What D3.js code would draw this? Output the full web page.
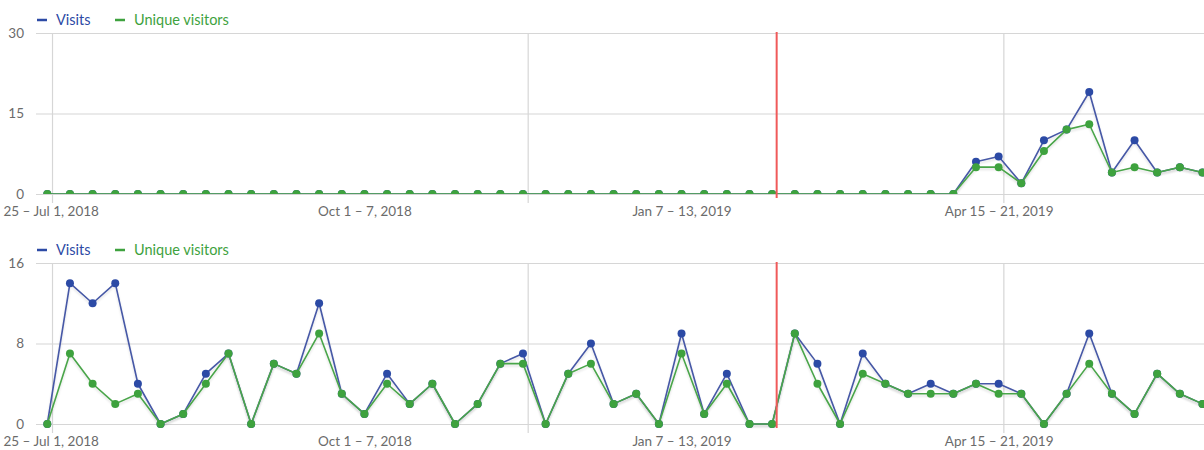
<!DOCTYPE html>
<html>
<head>
<meta charset="utf-8">
<script src="https://cdn.jsdelivr.net/npm/d3@7/dist/d3.min.js"></script>
<style>
  html, body { margin: 0; padding: 0; background: #fff; overflow: hidden; }
  svg { display: block; font-family: Lato, "Open Sans", sans-serif; }
</style>
</head>
<body>
<svg id="chart" width="1204" height="450"></svg>
<script>
// ---- data ----
const weekCount = 52; // weekly points, index 0 = week of Jun 25, 2018
const xTickIndex = [0, 14, 28, 42];
const xTickLabels = ["25 – Jul 1, 2018", "Oct 1 – 7, 2018", "Jan 7 – 13, 2019", "Apr 15 – 21, 2019"];
const xGridIndex = [0.23, 21.23, 42.23];
const markerIndex = 32.2;

const topVisits = [0,0,0,0,0,0,0,0,0,0, 0,0,0,0,0,0,0,0,0,0, 0,0,0,0,0,0,0,0,0,0,
                   0,0,0,0,0,0,0,0,0,0, 0,6,7,2,10,12,19,4,10,4, 5,4];
const topUnique = [0,0,0,0,0,0,0,0,0,0, 0,0,0,0,0,0,0,0,0,0, 0,0,0,0,0,0,0,0,0,0,
                   0,0,0,0,0,0,0,0,0,0, 0,5,5,2,8,12,13,4,5,4, 5,4];
const topYTicks = [0, 15, 30];

const botVisits = [0,14,12,14,4,0,1,5,7,0, 6,5,12,3,1,5,2,4,0,2, 6,7,0,5,8,2,3,0,9,1,
                   5,0,0,9,6,0,7,4,3,4, 3,4,4,3,0,3,9,3,1,5, 3,2];
const botUnique = [0,7,4,2,3,0,1,4,7,0, 6,5,9,3,1,4,2,4,0,2, 6,6,0,5,6,2,3,0,7,1,
                   4,0,0,9,4,0,5,4,3,3, 3,4,3,3,0,3,6,3,1,5, 3,2];
const botYTicks = [0, 8, 16];

const seriesNames = ["Visits", "Unique visitors"];
const lineColors = ["#4658a6", "#4aa54a"];
const dotColors = ["#2c4aa5", "#3ea23e"];

// ---- drawing ----
const svg = d3.select("#chart");
const defs = svg.append("defs");
const f = defs.append("filter").attr("id", "shadow").attr("x", "-5%").attr("y", "-5%").attr("width", "110%").attr("height", "120%");
f.append("feDropShadow").attr("dx", 0).attr("dy", 2).attr("stdDeviation", 1.2)
  .attr("flood-color", "#000").attr("flood-opacity", 0.12);

const x = d3.scaleLinear().domain([0, weekCount - 1]).range([47.3, 1202.5]);
const plotLeft = 36, plotRight = 1204;

function panel(cfg) {
  const g = svg.append("g");
  const y = d3.scaleLinear().domain([0, cfg.max]).range([cfg.bottom, cfg.top]);

  // legend
  const lg = g.append("g");
  seriesNames.forEach((n, i) => {
    const lx = i === 0 ? 37 : 115;
    lg.append("line").attr("x1", lx).attr("x2", lx + 10).attr("y1", cfg.legendY).attr("y2", cfg.legendY)
      .attr("stroke", dotColors[i]).attr("stroke-width", 2.5);
    lg.append("text").attr("x", lx + 19).attr("y", cfg.legendY).attr("dy", "0.35em")
      .attr("fill", dotColors[i]).attr("font-size", 14.5).text(n);
  });

  // horizontal gridlines + y labels
  const yAxis = d3.axisLeft(y).tickValues(cfg.yTicks).tickSize(-(plotRight - plotLeft)).tickPadding(12);
  const ya = g.append("g").attr("transform", `translate(${plotLeft},0)`).call(yAxis);
  ya.select(".domain").remove();
  ya.selectAll(".tick line").attr("stroke", "#d6d6d6").attr("stroke-width", 1.2);
  ya.selectAll(".tick text").attr("fill", "#6b6b6b").attr("font-size", 13.5)
    .attr("font-family", "Lato, sans-serif").attr("x", -12);

  // vertical gridlines
  g.selectAll(".vg").data(xGridIndex).enter().append("line")
    .attr("x1", d => x(d)).attr("x2", d => x(d))
    .attr("y1", cfg.top).attr("y2", cfg.bottom + 9)
    .attr("stroke", "#d6d6d6").attr("stroke-width", 1.2);

  // x labels
  const xAxis = d3.axisBottom(x).tickValues(xTickIndex).tickFormat((d, i) => xTickLabels[i]).tickSize(0).tickPadding(12);
  const xa = g.append("g").attr("transform", `translate(0,${cfg.bottom})`).call(xAxis);
  xa.select(".domain").remove();
  xa.selectAll(".tick text").attr("fill", "#6b6b6b").attr("font-size", 13.5).attr("font-family", "Lato, sans-serif");
  // first label sits against the left edge
  xa.selectAll(".tick text").filter((d, i) => i === 0).attr("text-anchor", "start").attr("x", -x(0) + 3);

  // clip for data
  const cid = "clip" + cfg.id;
  defs.append("clipPath").attr("id", cid).append("rect")
    .attr("x", plotLeft).attr("y", cfg.top - 10).attr("width", plotRight - plotLeft)
    .attr("height", cfg.bottom - cfg.top + 10 + cfg.clipBelow);
  const dg = g.append("g").attr("clip-path", `url(#${cid})`);

  const line = d3.line().x((d, i) => x(i)).y(d => y(d));
  [cfg.visits, cfg.unique].forEach((vals, s) => {
    dg.append("path").datum(vals).attr("d", line)
      .attr("fill", "none").attr("stroke", lineColors[s]).attr("stroke-width", 1.6)
      .attr("stroke-linejoin", "round").attr("filter", "url(#shadow)");
    dg.selectAll(".dot" + s).data(vals).enter().append("circle")
      .attr("cx", (d, i) => x(i)).attr("cy", d => y(d)).attr("r", 4)
      .attr("fill", dotColors[s]);
  });

  // red marker
  g.append("line").attr("x1", x(markerIndex)).attr("x2", x(markerIndex))
    .attr("y1", cfg.top - 1).attr("y2", cfg.bottom + 4)
    .attr("stroke", "#f05a5a").attr("stroke-width", 2);
}

panel({ id: 1, top: 33, bottom: 194, max: 30, yTicks: topYTicks, legendY: 20,
        visits: topVisits, unique: topUnique, clipBelow: 0 });
panel({ id: 2, top: 263, bottom: 424, max: 16, yTicks: botYTicks, legendY: 250,
        visits: botVisits, unique: botUnique, clipBelow: 6 });
</script>
</body>
</html>
